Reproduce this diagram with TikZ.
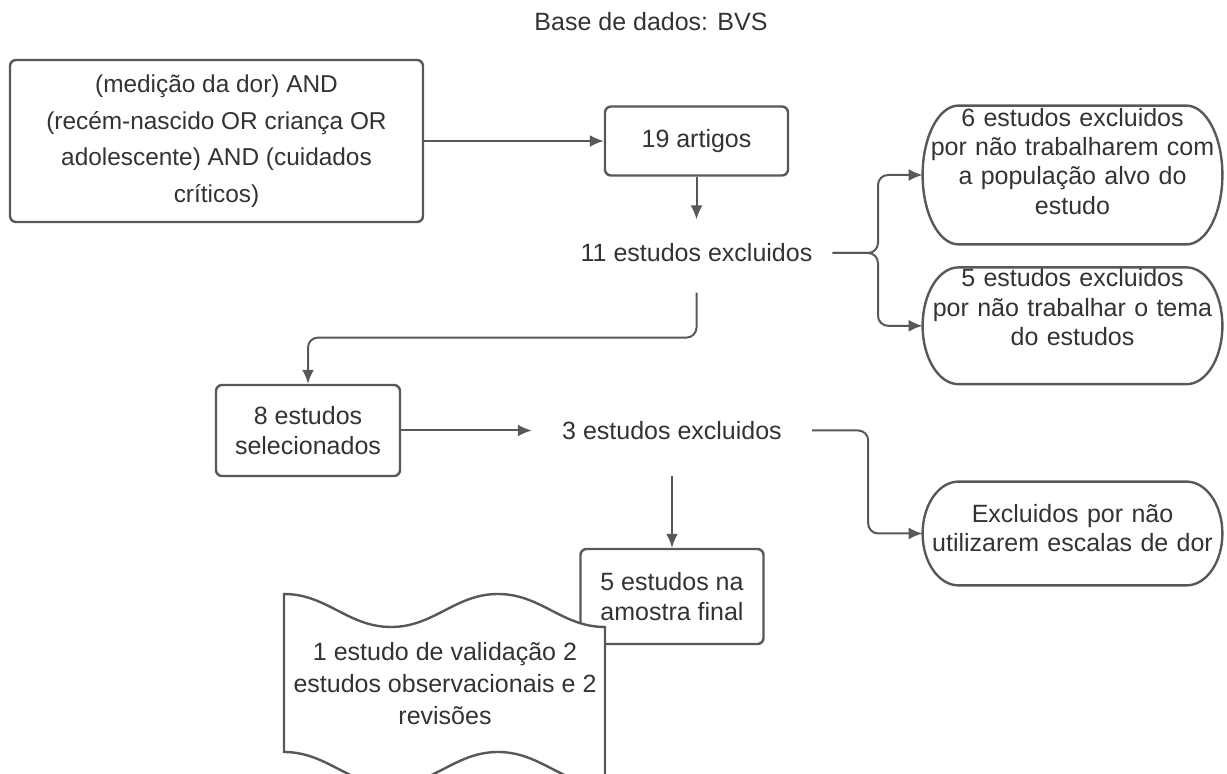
\documentclass[tikz,border=0pt]{standalone}
\usepackage{fontspec}
\setmainfont{Liberation Sans}
\usepackage{tikz}
\usetikzlibrary{arrows.meta,positioning,calc}
\definecolor{inkgray}{HTML}{333333}
\definecolor{linegray}{HTML}{585858}

\begin{document}
\begin{tikzpicture}[x=0.5pt,y=-0.5pt,
  box/.style={rectangle, rounded corners=3pt, draw=linegray, line width=1.2pt, fill=white,
              align=center, text=inkgray, font=\fontsize{12.5}{15}\selectfont, inner sep=0pt},
  term/.style={rectangle, draw=none, text width=149.5pt, align=center, inner sep=0pt,
               text=inkgray, font=\fontsize{12.5}{14.7}\selectfont},
  termline/.style={draw=linegray, line width=1.2pt},
  note/.style={text=inkgray, font=\fontsize{12.5}{15}\selectfont, inner xsep=10pt, inner ysep=12pt},
  tape/.style={draw=linegray, line width=1.2pt, fill=white},
  rel/.style={-{Latex[length=7pt,width=6pt]}, line width=1pt, draw=linegray, rounded corners=5pt}
]
  \useasboundingbox (0,0) rectangle (1227,774);

  \node[note] (title) at (651,22) {Base de dados: BVS};
  \node[box, minimum width=206.5pt, minimum height=81pt, font=\fontsize{12.2}{18.3}\selectfont]
    (query) at (216.5,141) {(medição da dor) AND\\(recém-nascido OR criança OR\\adolescente) AND (cuidados\\críticos)};
  \node[box, minimum width=91.5pt, minimum height=34.5pt] (art) at (696.5,141) {19 artigos};
  \node[note] (ex11) at (696.5,253) {11 estudos excluidos};
  \node[term, minimum height=69pt, text depth=58pt] (exc6) at (1072.5,175)
    {6 estudos excluidos\\por não trabalharem com\\a população alvo do\\estudo};
  \node[term, minimum height=58pt, text depth=48pt, below=11.5pt of exc6] (exc5)
    {5 estudos excluidos\\por não trabalhar o tema\\do estudos};
  \node[box, minimum width=92pt, minimum height=45.5pt] (sel) at (308,430.5) {8 estudos\\selecionados};
  \node[note, inner xsep=15pt] (ex3) at (672,430.5) {3 estudos excluidos};
  \node[term, minimum height=51.5pt, text depth=20pt] (exdor) at (1072.5,533.5)
    {Excluidos por não\\utilizarem escalas de dor};
  \node[box, minimum width=91.5pt, minimum height=47.5pt] (final) at (672,596.5) {5 estudos na\\amostra final};

  \foreach \shp in {exc6,exc5,exdor}
    \draw[termline] let \p1=(\shp.north west), \p2=(\shp.south east), \n1={(\y1-\y2)/2} in
      (\x1+18pt,\y1) -- (\x2-18pt,\y1) arc[start angle=90, end angle=-90, x radius=18pt, y radius=\n1]
      -- (\x1+18pt,\y2) arc[start angle=270, end angle=90, x radius=18pt, y radius=\n1] -- cycle;

  \path[tape] (284,594) .. controls (327,594) and (348,627) .. (391,627)
    .. controls (434,627) and (455,594) .. (498,594)
    .. controls (541,594) and (562,627) .. (605,627) -- (605,785)
    .. controls (562,785) and (541,752) .. (498,752)
    .. controls (455,752) and (434,785) .. (391,785)
    .. controls (348,785) and (327,752) .. (284,752) -- cycle;
  \node[text=inkgray, align=center, font=\fontsize{12.5}{16}\selectfont] (rev) at (445,684)
    {1 estudo de validação 2\\estudos observacionais e 2\\revisões};

  \coordinate (fork) at (878,253);
  \draw[rel] (query) -- (art);
  \draw[rel] (art) -- (ex11);
  \draw[rel] (ex11.east) -- (fork) |- (exc6.west);
  \draw[rel] (ex11.east) -- (fork) |- (exc5.west);
  \draw[rel] ([yshift=-3pt]ex11.south) -- ++(0,45) -| (sel.north);
  \draw[rel] (sel) -- (ex3);
  \draw[rel] (ex3.east) -- ++(56,0) |- (exdor.west);
  \draw[rel] ([yshift=-6pt]ex3.south) -- (final);
\end{tikzpicture}
\end{document}
